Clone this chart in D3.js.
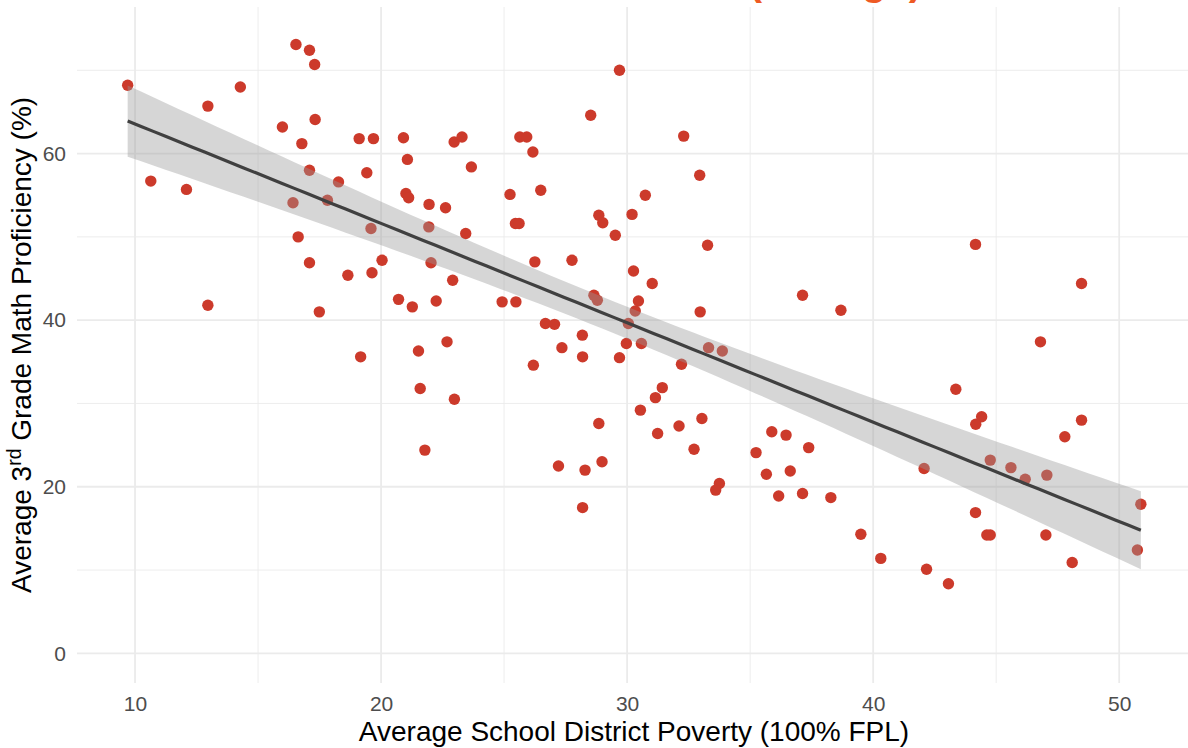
<!DOCTYPE html>
<html>
<head>
<meta charset="utf-8">
<script src="https://cdn.jsdelivr.net/npm/d3@7"></script>
<style>
  html, body { margin: 0; padding: 0; background: #ffffff; }
  svg { display: block; }
</style>
</head>
<body>
<svg id="chart" width="1188" height="748"></svg>
<script>
// Average school district poverty (% of students at 100% FPL), one value per district
const povertyPct = [
  9.70, 10.64, 12.09, 12.96, 12.96, 14.28, 16.54, 17.09, 17.30, 15.99,
  17.32, 16.78, 17.09, 18.27, 16.42, 17.82, 19.42, 19.11, 19.69, 20.91,
  19.59, 16.63, 21.01, 21.12, 21.95, 22.62, 21.94, 23.44, 17.09, 20.04,
  22.03, 18.65, 19.63, 22.91, 20.71, 21.27, 22.24, 24.92, 17.49, 22.68,
  21.52, 19.17, 21.59, 22.98, 21.78, 21.07, 22.97, 23.29, 23.67, 25.24,
  25.64, 25.92, 26.17, 26.49, 25.46, 25.61, 28.52, 29.69, 28.85, 29.01,
  29.52, 30.20, 30.74, 32.30, 32.95, 33.27, 26.25, 27.76, 30.26, 31.02,
  28.65, 28.79, 25.48, 30.46, 30.33, 32.97, 37.13, 38.69, 30.05, 26.68,
  27.05, 28.18, 29.97, 30.58, 33.31, 33.87, 27.35, 28.19, 29.69, 26.19,
  32.21, 31.43, 31.15, 30.54, 28.85, 33.04, 32.11, 31.24, 32.72, 27.21,
  28.29, 28.98, 35.88, 36.46, 37.38, 35.24, 35.66, 36.63, 36.16, 37.13,
  38.28, 33.75, 33.60, 28.19, 39.50, 40.31, 44.16, 48.47, 46.80, 43.36,
  44.41, 44.17, 48.47, 47.79, 42.07, 44.76, 45.60, 46.18, 47.06, 50.88,
  50.74, 44.16, 44.62, 44.76, 47.02, 48.09, 42.17, 43.06
];

// Average 3rd grade math proficiency (%), same district order
const mathProficiency = [
  68.2, 56.7, 55.7, 65.7, 41.8, 68.0, 73.1, 72.4, 70.7, 63.2,
  64.1, 61.2, 58.0, 56.6, 54.1, 54.4, 57.7, 61.8, 61.8, 61.9,
  51.0, 50.0, 55.2, 54.7, 53.9, 53.5, 51.2, 50.4, 46.9, 47.2,
  46.9, 45.4, 45.7, 44.8, 42.5, 41.6, 42.3, 42.2, 41.0, 37.4,
  36.3, 35.6, 31.8, 30.5, 24.4, 59.3, 61.4, 62.0, 58.4, 55.1,
  62.0, 62.0, 60.2, 55.6, 51.6, 51.6, 64.6, 70.0, 52.6, 51.7,
  50.2, 52.7, 55.0, 62.1, 57.4, 49.0, 47.0, 47.2, 45.9, 44.4,
  43.0, 42.4, 42.2, 42.3, 41.1, 41.0, 43.0, 41.2, 39.6, 39.6,
  39.5, 38.2, 37.2, 37.2, 36.7, 36.3, 36.7, 35.6, 35.5, 34.6,
  34.7, 31.9, 30.7, 29.2, 27.6, 28.2, 27.3, 26.4, 24.5, 22.5,
  22.0, 23.0, 26.6, 26.2, 24.7, 24.1, 21.5, 21.9, 18.9, 19.2,
  18.7, 20.4, 19.6, 17.5, 14.3, 11.4, 49.1, 44.4, 37.4, 31.7,
  28.4, 27.5, 28.0, 26.0, 22.2, 23.2, 22.3, 20.9, 21.4, 17.9,
  12.4, 16.9, 14.2, 14.2, 14.2, 10.9, 10.1, 8.35
];

const xTickValues = [10, 20, 30, 40, 50];
const xMinorValues = [15, 25, 35, 45];
const yTickValues = [0, 20, 40, 60];
const yMinorValues = [10, 30, 50, 70];

const titleText = "District Math Results (Ratings)";
const xTitle = "Average School District Poverty (100% FPL)";

const svg = d3.select("#chart");
const panel = { left: 77, right: 1191.5, top: 7, bottom: 683 };

// x: data range padded by 5% on each side
const xExt = d3.extent(povertyPct);
const xPad = (xExt[1] - xExt[0]) * 0.05;
const x = d3.scaleLinear()
  .domain([xExt[0] - xPad, xExt[1] + xPad])
  .range([panel.left, panel.right]);

// y: runs from zero (padded) up past the highest district
const y = d3.scaleLinear()
  .domain([-3.56, 77.6])
  .range([panel.bottom, panel.top]);

// ---- grid ----
const grid = svg.append("g");
grid.selectAll("line.ymin").data(yMinorValues).join("line")
  .attr("x1", panel.left).attr("x2", 1188)
  .attr("y1", d => y(d)).attr("y2", d => y(d))
  .attr("stroke", "#EBEBEB").attr("stroke-width", 0.9);
grid.selectAll("line.xmin").data(xMinorValues).join("line")
  .attr("y1", panel.top).attr("y2", panel.bottom)
  .attr("x1", d => x(d)).attr("x2", d => x(d))
  .attr("stroke", "#EBEBEB").attr("stroke-width", 0.9);
grid.selectAll("line.ymaj").data(yTickValues).join("line")
  .attr("x1", panel.left).attr("x2", 1188)
  .attr("y1", d => y(d)).attr("y2", d => y(d))
  .attr("stroke", "#EBEBEB").attr("stroke-width", 1.8);
grid.selectAll("line.xmaj").data(xTickValues).join("line")
  .attr("y1", panel.top).attr("y2", panel.bottom)
  .attr("x1", d => x(d)).attr("x2", d => x(d))
  .attr("stroke", "#EBEBEB").attr("stroke-width", 1.8);

// ---- points ----
const pts = povertyPct.map((p, i) => ({ p, m: mathProficiency[i] }));
svg.append("g").selectAll("circle").data(pts).join("circle")
  .attr("cx", d => x(d.p))
  .attr("cy", d => y(d.m))
  .attr("r", 5.7)
  .attr("fill", "#CC3A2B");

// ---- linear fit with 95% confidence band ----
const n = pts.length;
const mx = d3.mean(povertyPct), my = d3.mean(mathProficiency);
let sxx = 0, sxy = 0;
pts.forEach(d => { sxx += (d.p - mx) ** 2; sxy += (d.p - mx) * (d.m - my); });
const slope = sxy / sxx;
const intercept = my - slope * mx;
let sse = 0;
pts.forEach(d => { sse += (d.m - (intercept + slope * d.p)) ** 2; });
const sigma = Math.sqrt(sse / (n - 2));
const tCrit = 1.978;
const fitX = d3.range(80).map(i => xExt[0] + (xExt[1] - xExt[0]) * i / 79);
const fit = fitX.map(v => {
  const yh = intercept + slope * v;
  const se = sigma * Math.sqrt(1 / n + (v - mx) ** 2 / sxx);
  return { v, yh, lo: yh - tCrit * se, hi: yh + tCrit * se };
});

svg.append("path").datum(fit)
  .attr("d", d3.area().x(d => x(d.v)).y0(d => y(d.lo)).y1(d => y(d.hi)))
  .attr("fill", "#999999").attr("fill-opacity", 0.4);

svg.append("path").datum(fit)
  .attr("d", d3.line().x(d => x(d.v)).y(d => y(d.yh)))
  .attr("fill", "none").attr("stroke", "#404040").attr("stroke-width", 3.2);

// ---- axes (labels only) ----
const fontFam = "'Liberation Sans', Arial, Helvetica, sans-serif";
const yAxis = svg.append("g").attr("transform", `translate(${panel.left},0)`)
  .call(d3.axisLeft(y).tickValues(yTickValues).tickSize(0).tickPadding(11));
const xAxis = svg.append("g").attr("transform", `translate(0,${panel.bottom})`)
  .call(d3.axisBottom(x).tickValues(xTickValues).tickSize(0).tickPadding(13));
[yAxis, xAxis].forEach(a => {
  a.select(".domain").remove();
  a.selectAll("text").attr("fill", "#4D4D4D").style("font-size", "21px").style("font-family", fontFam);
});

// ---- axis titles ----
svg.append("text")
  .attr("x", 634).attr("y", 741)
  .attr("text-anchor", "middle")
  .style("font-family", fontFam).style("font-size", "28px").attr("fill", "#000")
  .text(xTitle);

const yTitle = svg.append("text")
  .attr("transform", "translate(31,593) rotate(-90)")
  .attr("text-anchor", "start")
  .style("font-family", fontFam).style("font-size", "28px").attr("fill", "#000");
yTitle.append("tspan").text("Average 3");
yTitle.append("tspan").attr("dy", -10).style("font-size", "19.5px").text("rd");
yTitle.append("tspan").attr("dy", 10).text(" Grade Math Proficiency (%)");

// ---- title (sits above the panel) ----
svg.append("text")
  .attr("x", 922).attr("y", -5.5)
  .attr("text-anchor", "end")
  .style("font-family", fontFam).style("font-size", "40px").style("font-weight", "bold")
  .attr("fill", "#EE5A24")
  .text(titleText);
</script>
</body>
</html>
